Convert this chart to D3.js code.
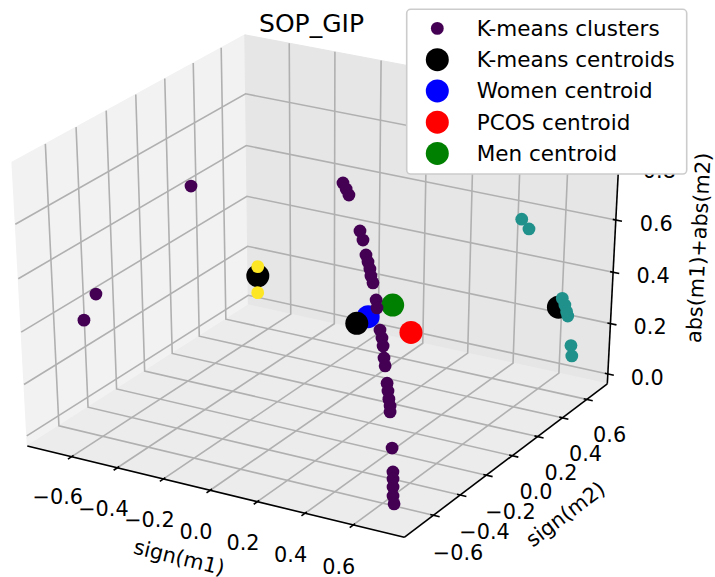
<!DOCTYPE html>
<html>
<head>
<meta charset="utf-8">
<script src="https://cdn.jsdelivr.net/npm/d3@7"></script>
<style>
body { margin: 0; background: #fff; }
svg { font-family: "DejaVu Sans", sans-serif; }
</style>
</head>
<body>
<script>
// K-means cluster points: sign(m1), sign(m2), abs(m1)+abs(m2), label
var clusterX = [-0.525, -0.695, -0.701,
  -0.043, -0.022, -0.002, 0.099, 0.125, 0.162, 0.181, 0.200, 0.216, 0.235,
  0.276, 0.293, 0.342, 0.363, 0.381, 0.405, 0.423, 0.460, 0.477, 0.494,
  0.510, 0.521, 0.591, 0.636, 0.649, 0.663, 0.679, 0.696,
  0.573, 0.608, 0.708, 0.725, 0.739, 0.748, 0.735, 0.751,
  -0.212, -0.180];
var clusterY = [-0.065, -0.467, -0.544,
  0.218, 0.205, 0.191, 0.098, 0.075, 0.033, 0.015, -0.004, -0.024, -0.042,
  -0.090, -0.113, -0.176, -0.198, -0.221, -0.256, -0.279, -0.329, -0.352, -0.375,
  -0.394, -0.413, -0.520, -0.592, -0.614, -0.638, -0.666, -0.688,
  0.467, 0.460, 0.558, 0.548, 0.537, 0.530, 0.594, 0.573,
  -0.114, -0.169];
var clusterZ = [0.752, 0.445, 0.371,
  0.761, 0.746, 0.732, 0.646, 0.624, 0.589, 0.572, 0.556, 0.539, 0.523,
  0.483, 0.464, 0.412, 0.394, 0.375, 0.347, 0.329, 0.289, 0.271, 0.252,
  0.236, 0.223, 0.140, 0.086, 0.070, 0.052, 0.032, 0.014,
  0.658, 0.630, 0.352, 0.333, 0.314, 0.301, 0.161, 0.131,
  0.523, 0.449];
var clusterLabel = [0, 0, 0,
  0, 0, 0, 0, 0, 0, 0, 0, 0, 0,
  0, 0, 0, 0, 0, 0, 0, 0, 0, 0,
  0, 0, 0, 0, 0, 0, 0, 0,
  1, 1, 1, 1, 1, 1, 1, 1,
  2, 2];

var centroidX = [0.175, 0.707, -0.200];
var centroidY = [-0.054, 0.531, -0.134];
var centroidZ = [0.362, 0.327, 0.497];

var womenCentroid = [0.203, -0.019, 0.381];
var pcosCentroid = [0.359, 0.026, 0.336];
var menCentroid = [0.267, 0.050, 0.414];

var xTicks = [-0.6, -0.4, -0.2, 0, 0.2, 0.4, 0.6];
var yTicks = [-0.6, -0.4, -0.2, 0, 0.2, 0.4, 0.6];
var zTicks = [0, 0.2, 0.4, 0.6, 0.8];

var clusterColors = ['#440154', '#21918c', '#fde725'];
var legendLabels = ['K-means clusters', 'K-means centroids', 'Women centroid', 'PCOS centroid', 'Men centroid'];
var legendColors = ['#440154', 'black', 'blue', 'red', 'green'];

var W = 715, H = 577;
var fs = 20.8;
var svg = d3.select('body').append('svg').attr('width', W).attr('height', H);

// box limits (with matplotlib's pane padding)
var xLim = [-0.7965, 0.809], yLim = [-0.813, 0.772], zLim = [-0.0394, 1.0238];
var xs = d3.scaleLinear().domain(xLim).range([-0.5, 0.5]);
var ys = d3.scaleLinear().domain(yLim).range([-0.5, 0.5]);
var zs = d3.scaleLinear().domain(zLim).range([-0.5, 0.5]);

// view like mplot3d: elev 30, azim -60, dist 10
var elev = 30, azim = -60, dist = 10;
var re = elev * Math.PI / 180, ra = azim * Math.PI / 180;
var nv = [Math.cos(ra) * Math.cos(re), Math.sin(ra) * Math.cos(re), Math.sin(re)];
var uv = [-nv[1], nv[0], 0];
var ul = Math.hypot(uv[0], uv[1]);
uv = [uv[0] / ul, uv[1] / ul, 0];
var vv = [nv[1] * uv[2] - nv[2] * uv[1], nv[2] * uv[0] - nv[0] * uv[2], nv[0] * uv[1] - nv[1] * uv[0]];

var sx = d3.scaleLinear().domain([0, 0.1]).range([321.8, 321.8 + 435.1]);
var sy = d3.scaleLinear().domain([0, 0.1]).range([277.5, 277.5 - 324]);

function dot(a, p) { return a[0] * p[0] + a[1] * p[1] + a[2] * p[2]; }
function projN(a, b, c) {
  var p = [a, b, c];
  var d = dist - dot(nv, p);
  return [sx(dot(uv, p) / d), sy(dot(vv, p) / d)];
}
function depth(a, b, c) { return dot(nv, [a, b, c]); }
function proj(x, y, z) { return projN(xs(x), ys(y), zs(z)); }

var line = d3.line();

// panes
var panes = [
  { c: '#f2f2f2', p: [[-0.5, -0.5, -0.5], [-0.5, 0.5, -0.5], [-0.5, 0.5, 0.5], [-0.5, -0.5, 0.5]] },
  { c: '#e6e6e6', p: [[-0.5, 0.5, -0.5], [0.5, 0.5, -0.5], [0.5, 0.5, 0.5], [-0.5, 0.5, 0.5]] },
  { c: '#ececec', p: [[-0.5, -0.5, -0.5], [0.5, -0.5, -0.5], [0.5, 0.5, -0.5], [-0.5, 0.5, -0.5]] }
];
svg.append('g').selectAll('path').data(panes).enter().append('path')
  .attr('d', function(d) { return line(d.p.map(function(q) { return projN(q[0], q[1], q[2]); })) + 'Z'; })
  .attr('fill', function(d) { return d.c; })
  .attr('stroke', function(d) { return d.c; });

// grid
var grid = [];
xTicks.forEach(function(t) { var a = xs(t); grid.push([[a, -0.5, -0.5], [a, 0.5, -0.5], [a, 0.5, 0.5]]); });
yTicks.forEach(function(t) { var b = ys(t); grid.push([[0.5, b, -0.5], [-0.5, b, -0.5], [-0.5, b, 0.5]]); });
zTicks.forEach(function(t) { var c = zs(t); grid.push([[-0.5, -0.5, c], [-0.5, 0.5, c], [0.5, 0.5, c]]); });
svg.append('g').selectAll('path').data(grid).enter().append('path')
  .attr('d', function(d) { return line(d.map(function(q) { return projN(q[0], q[1], q[2]); })); })
  .attr('fill', 'none').attr('stroke', '#b0b0b0').attr('stroke-width', 1.6);

// axis lines
var axes = [
  [[-0.5, -0.5, -0.5], [0.5, -0.5, -0.5]],
  [[0.5, -0.5, -0.5], [0.5, 0.5, -0.5]],
  [[0.5, 0.5, -0.5], [0.5, 0.5, 0.5]]
];
var axG = svg.append('g');
axG.selectAll('path').data(axes).enter().append('path')
  .attr('d', function(d) { return line(d.map(function(q) { return projN(q[0], q[1], q[2]); })); })
  .attr('stroke', 'black').attr('stroke-width', 1.6).attr('fill', 'none');

// ticks
var dl = 0.08, tOut = 0.2 * dl, tIn = 0.1 * dl;
var tickSegs = [];
xTicks.forEach(function(t) { var a = xs(t); tickSegs.push([projN(a, -0.5 - tOut, -0.5), projN(a, -0.5 + tIn, -0.5)]); });
yTicks.forEach(function(t) { var b = ys(t); tickSegs.push([projN(0.5 + tOut, b, -0.5), projN(0.5 - tIn, b, -0.5)]); });
zTicks.forEach(function(t) { var c = zs(t); tickSegs.push([projN(0.5 + tOut, 0.5, c), projN(0.5 - tIn, 0.5, c)]); });
axG.selectAll('.tk').data(tickSegs).enter().append('path').attr('class', 'tk')
  .attr('d', function(d) { return line(d); })
  .attr('stroke', 'black').attr('stroke-width', 1.6);

var fmt = d3.format('.1f');
var labs = [];
xTicks.forEach(function(t) { labs.push({ t: fmt(t), p: projN(xs(t), -0.565, -0.614) }); });
yTicks.forEach(function(t) { labs.push({ t: fmt(t), p: projN(0.565, ys(t), -0.614) }); });
zTicks.forEach(function(t) { var p = projN(0.57, 0.57, zs(t)); labs.push({ t: fmt(t), p: [p[0], p[1] + 8] }); });
svg.append('g').selectAll('text').data(labs).enter().append('text')
  .attr('x', function(d) { return d.p[0]; })
  .attr('y', function(d) { return d.p[1]; })
  .attr('text-anchor', 'middle').attr('dominant-baseline', 'central')
  .attr('font-size', fs).text(function(d) { return d.t; });

// axis labels
function ang(p0, p1) {
  var a = Math.atan2(p1[1] - p0[1], p1[0] - p0[0]) * 180 / Math.PI;
  if (a > 90) a -= 180;
  if (a <= -90) a += 180;
  return a;
}
var axLabels = [
  { t: 'sign(m1)', p: projN(0, -0.645, -0.66), r: ang(projN(-0.5, -0.5, -0.5), projN(0.5, -0.5, -0.5)) },
  { t: 'sign(m2)', p: projN(0.65, 0, -0.66), r: ang(projN(0.5, -0.5, -0.5), projN(0.5, 0.5, -0.5)) },
  { t: 'abs(m1)+abs(m2)', p: projN(0.647, 0.647, 0), r: ang(projN(0.5, 0.5, -0.5), projN(0.5, 0.5, 0.5)), dy: 8 }
];
svg.append('g').selectAll('text').data(axLabels).enter().append('text')
  .attr('transform', function(d) { return 'translate(' + d.p[0] + ',' + (d.p[1] + (d.dy || 0)) + ') rotate(' + d.r + ')'; })
  .attr('text-anchor', 'middle').attr('dominant-baseline', 'central')
  .attr('font-size', fs).text(function(d) { return d.t; });

// scatter
var R = 11.5, r = 6.4;
var pts = svg.append('g');
[[womenCentroid, 'blue'], [pcosCentroid, 'red'], [menCentroid, 'green']].forEach(function(c) {
  var p = proj(c[0][0], c[0][1], c[0][2]);
  pts.append('circle').attr('cx', p[0]).attr('cy', p[1]).attr('r', R).attr('fill', c[1]);
});
pts.selectAll('.km').data(centroidX.map(function(x, i) { return proj(x, centroidY[i], centroidZ[i]); }))
  .enter().append('circle').attr('class', 'km')
  .attr('cx', function(d) { return d[0]; }).attr('cy', function(d) { return d[1]; })
  .attr('r', R).attr('fill', 'black');

var cl = clusterX.map(function(x, i) {
  return { p: proj(x, clusterY[i], clusterZ[i]), d: depth(xs(x), ys(clusterY[i]), zs(clusterZ[i])), k: clusterLabel[i] };
});
cl.sort(function(a, b) { return a.d - b.d; });
pts.selectAll('.cl').data(cl).enter().append('circle').attr('class', 'cl')
  .attr('cx', function(d) { return d.p[0]; }).attr('cy', function(d) { return d.p[1]; })
  .attr('r', r).attr('fill', function(d) { return clusterColors[d.k]; });

// title
svg.append('text').attr('x', 311.5).attr('y', 32).attr('text-anchor', 'middle')
  .attr('font-size', 25).text('SOP_GIP');

// legend
var lg = svg.append('g');
lg.append('rect').attr('x', 406.7).attr('y', 9.3).attr('width', 280).attr('height', 164.7)
  .attr('rx', 4).attr('fill', 'white')
  .attr('stroke', '#cccccc').attr('stroke-width', 1.6);
var rows = lg.selectAll('g').data(legendLabels).enter().append('g')
  .attr('transform', function(d, i) { return 'translate(0,' + (28.4 + i * 31.25) + ')'; });
rows.append('circle').attr('cx', 437.3).attr('cy', 0)
  .attr('r', function(d, i) { return i === 0 ? r : R; })
  .attr('fill', function(d, i) { return legendColors[i]; });
rows.append('text').attr('x', 476.7).attr('y', 0).attr('dominant-baseline', 'central')
  .attr('font-size', 21.5).text(function(d) { return d; });
</script>
</body>
</html>
